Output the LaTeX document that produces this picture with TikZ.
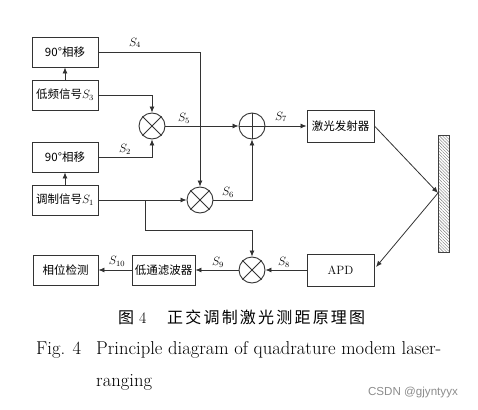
\documentclass[tikz,border=0pt]{standalone}
\usepackage{fontspec}
\newfontfamily\cjk{Noto Sans CJK SC}
\newfontfamily\wm{Liberation Sans}
\usetikzlibrary{arrows.meta,patterns.meta,calc}
\newcommand\gp{\hspace{2.2pt}}
\begin{document}
\begin{tikzpicture}[x=1pt,y=-1pt,
  blk/.style={draw=black!80,line width=0.9pt,minimum width=66pt,minimum height=30pt,inner sep=0pt,font=\cjk\fontsize{11.5}{13}\selectfont},
  mix/.style={draw=black!80,line width=0.9pt,circle,minimum size=26pt,inner sep=0pt},
  ln/.style={draw=black!80,line width=0.8pt},
  arr/.style={ln,-{Latex[length=6pt,width=5pt]}},
  lab/.style={font=\fontsize{12}{14}\selectfont,inner sep=0pt}]
\useasboundingbox (0,0) rectangle (478,409);
% blocks
\node[blk] (ps1) at (65,52) {90°相移};
\node[blk] (s3) at (65,95) {低频信号$S_3$};
\node[blk] (ps2) at (65,157) {90°相移};
\node[blk] (s1) at (65,200) {调制信号$S_1$};
\node[blk,minimum width=67pt,minimum height=32pt] (laser) at (340.5,126) {激光发射器};
\node[blk,minimum width=67pt,minimum height=32pt,font=\fontsize{12}{14}\selectfont] (apd) at (340.5,270) {APD};
\node[blk,minimum width=63pt] (lpf) at (163.5,270) {低通滤波器};
\node[blk,minimum width=65pt] (pd) at (65.5,270) {相位检测};
% mixers
\node[mix] (m1) at (152,126) {};
\node[mix] (m2) at (200,200) {};
\node[mix] (m3) at (252,270) {};
\node[mix] (ad) at (252,126) {};
\foreach \m in {m1,m2,m3}{
  \draw[ln] (\m.north east) -- (\m.south west);
  \draw[ln] (\m.north west) -- (\m.south east);
}
\draw[ln] (ad.north) -- (ad.south);
\draw[ln] (ad.west) -- (ad.east);
% reflector
\node[draw=black!75,line width=0.9pt,minimum width=11pt,minimum height=117pt,inner sep=0pt,
  pattern={Lines[angle=-45,distance=2.2pt,line width=0.4pt]},pattern color=black!55] (refl) at (443.5,193.5) {};
\coordinate (hit) at (438,193);
\coordinate (rt) at (376,267);
\coordinate (b1) at (145,200);
\coordinate (b2) at (145,230);
% connectors
\draw[arr] (s3.north) -- (ps1.south);
\draw[arr] (s1.north) -- (ps2.south);
\draw[arr] (ps1.east) -| (m2.north);
\draw[arr] (s3.east) -| (m1.north);
\draw[arr] (ps2.east) -| (m1.south);
\draw[arr] (m1.east) -- (ad.west);
\draw[arr] (s1.east) -- (m2.west);
\draw[arr] (m2.east) -| (ad.south);
\draw[arr] (ad.east) -- (laser.west);
\draw[arr] (laser.east) -- (hit);
\draw[arr] (hit) -- (rt);
\draw[arr] (apd.west) -- (m3.east);
\draw[arr] (m3.west) -- (lpf.east);
\draw[arr] (lpf.west) -- (pd.east);
\draw[arr] (b1) -- (b2) -| (m3.north);
% labels
\node[lab] (l4) at (135,43) {$S_4$};
\node[lab] (l2) at (125,149) {$S_2$};
\node[lab] (l5) at (184,118) {$S_5$};
\node[lab] (l6) at (228,192) {$S_6$};
\node[lab] (l7) at (281,117) {$S_7$};
\node[lab] (l8) at (284,262) {$S_8$};
\node[lab] (l9) at (218,262) {$S_9$};
\node[lab] (l10) at (117,261) {$S_{10}$};
% captions
\node[inner sep=0pt,anchor=base west,font=\fontsize{16}{18}\selectfont] (c1) at (118,323) {\makebox[49pt][l]{{\cjk 图}\hspace{5pt}4}{\cjk 正\gp 交\gp 调\gp 制\gp 激\gp 光\gp 测\gp 距\gp 原\gp 理\gp 图}};
\node[inner sep=0pt,anchor=base west,font=\fontsize{18.6}{22}\selectfont] (c2) at (36,354) {\makebox[60pt][l]{Fig. 4}Principle diagram of quadrature modem laser-};
\node[inner sep=0pt,anchor=base west,font=\fontsize{18.6}{22}\selectfont] (c3) at (96,386) {ranging};
\node[inner sep=0pt,font=\wm\fontsize{11.6}{13}\selectfont,text=black!45] (w) at (413,392) {CSDN @gjyntyyx};
\end{tikzpicture}
\end{document}
